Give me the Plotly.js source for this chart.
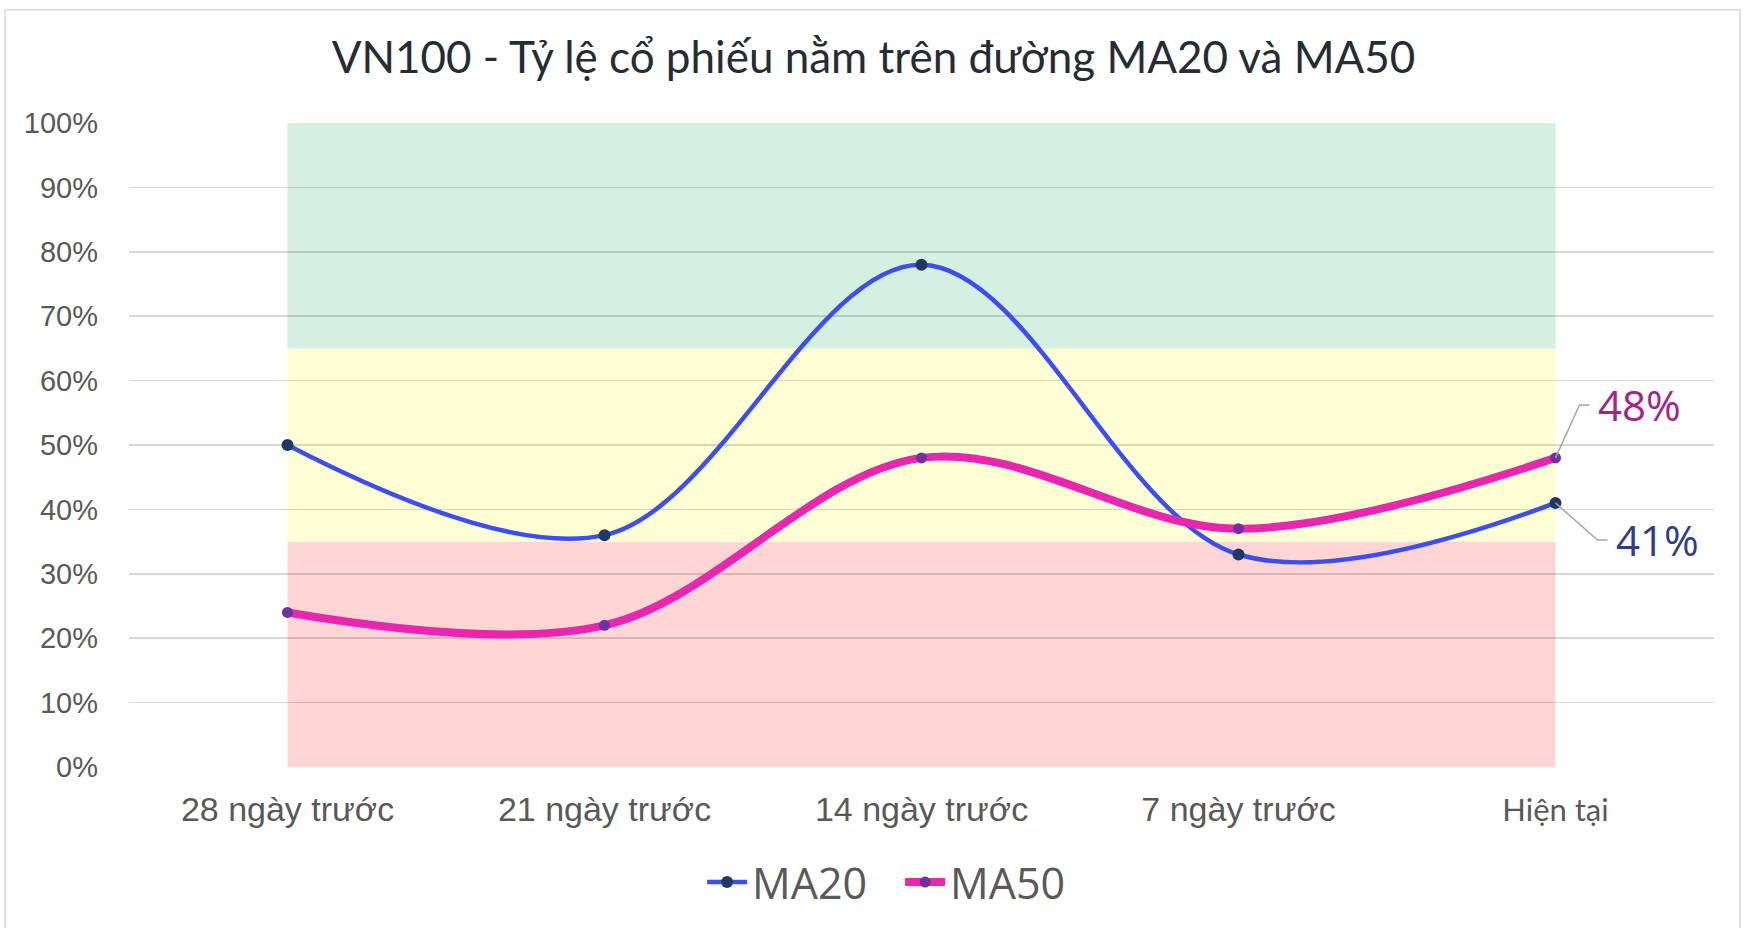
<!DOCTYPE html>
<html><head><meta charset="utf-8">
<script src="https://cdn.plot.ly/plotly-3.0.1.min.js"></script>
<style>html,body{margin:0;padding:0;background:#fff}#chart{width:1747px;height:928px}</style>
</head><body><div id="chart"></div>
<script>
// ---- data ----
const categories = ['28 ngày trước', '21 ngày trước', '14 ngày trước', '7 ngày trước', 'Hiện tại'];
const ma20 = [50, 36, 78, 33, 41];
const ma50 = [24, 22, 48, 37, 48];
const yTickValues = [0, 10, 20, 30, 40, 50, 60, 70, 80, 90, 100];
const yTickLabels = ['0%', '10%', '20%', '30%', '40%', '50%', '60%', '70%', '80%', '90%', '100%'];
const zoneLimits = [0, 35, 65, 100];   // red / yellow / green zones
const seriesNames = ['MA20', 'MA50'];
const titleText = 'VN100 - Tỷ lệ cổ phiếu nằm trên đường MA20 và MA50';

// ---- styles ----
const zoneColors = ['#FFD5D5', '#FFFFD5', '#D5F0E1'];
const last = categories.length - 1;

const tickText = categories.map((c, i) => i === last
  ? '<span style="font-family:Lato;font-size:31px">' + c + '</span>'
  : c);

const traces = [
  {
    x: categories, y: ma20, name: seriesNames[0], type: 'scatter', mode: 'lines+markers',
    line: {color: '#3B4EF2', width: 4.5, shape: 'spline', smoothing: 1},
    marker: {color: '#1F3864', size: 12},
    cliponaxis: false
  },
  {
    x: categories, y: ma50, name: seriesNames[1], type: 'scatter', mode: 'lines+markers',
    line: {color: '#E926B0', width: 8, shape: 'spline', smoothing: 1},
    marker: {color: '#7030A0', size: 11},
    cliponaxis: false
  }
];

const shapes = [];
for (let i = 0; i < zoneColors.length; i++) {
  shapes.push({
    type: 'rect', xref: 'x', yref: 'y', x0: 0, x1: last,
    y0: zoneLimits[i], y1: zoneLimits[i + 1],
    fillcolor: zoneColors[i], line: {width: 0}, layer: 'below'
  });
}
// chart border
shapes.push({
  type: 'rect', xref: 'paper', yref: 'paper', x0: -0.0782, x1: 1.0164, y0: -0.26, y1: 1.176,
  line: {color: '#D9D9D9', width: 1.5}, fillcolor: 'rgba(0,0,0,0)', layer: 'below'
});
// leader lines
shapes.push({
  type: 'path', xref: 'x', yref: 'y', xsizemode: 'pixel', ysizemode: 'pixel',
  xanchor: last, yanchor: ma50[last], path: 'M0,0 L24,53 L34,53',
  line: {color: '#A6A6A6', width: 1.5}
});
shapes.push({
  type: 'path', xref: 'x', yref: 'y', xsizemode: 'pixel', ysizemode: 'pixel',
  xanchor: last, yanchor: ma20[last], path: 'M0,0 L42,-37 L52,-37',
  line: {color: '#A6A6A6', width: 1.5}
});

const annotations = [
  {
    x: last, y: ma50[last], xref: 'x', yref: 'y', text: ma50[last] + '%', showarrow: false,
    xanchor: 'left', yanchor: 'middle', xshift: 40, yshift: 53,
    font: {family: 'Open Sans', size: 42, color: '#A3238E'}
  },
  {
    x: last, y: ma20[last], xref: 'x', yref: 'y', text: ma20[last] + '%', showarrow: false,
    xanchor: 'left', yanchor: 'middle', xshift: 58, yshift: -37,
    font: {family: 'Open Sans', size: 42, color: '#2E3C8C'}
  }
];

const layout = {
  width: 1747, height: 928,
  margin: {l: 129, r: 33, t: 123, b: 160},
  paper_bgcolor: '#FFFFFF', plot_bgcolor: 'rgba(0,0,0,0)',
  title: {
    text: titleText, x: 0.5, xref: 'container', xanchor: 'center',
    y: 1 - 58 / 928, yref: 'container', yanchor: 'middle',
    font: {family: 'Lato', size: 44, color: '#252C36'}
  },
  xaxis: {
    type: 'category', categoryorder: 'array', categoryarray: categories,
    range: [-0.5, categories.length - 0.5],
    tickmode: 'array', tickvals: categories, ticktext: tickText,
    showgrid: false, zeroline: false, showline: false, ticks: '',
    ticklabelstandoff: 19,
    tickfont: {family: 'Liberation Sans', size: 34, color: '#595959'}
  },
  yaxis: {
    range: [0, 100], tickmode: 'array', tickvals: yTickValues, ticktext: yTickLabels,
    showgrid: true, gridcolor: 'rgba(0,0,0,0.15)', gridwidth: 1.5,
    zeroline: false, showline: false, ticks: '',
    ticklabelstandoff: 30,
    tickfont: {family: 'Liberation Sans', size: 29, color: '#595959'}
  },
  showlegend: true,
  legend: {
    orientation: 'h', x: 0.4865, xanchor: 'center', y: -0.177, yanchor: 'middle',
    font: {family: 'Open Sans', size: 43, color: '#595959'},
    itemwidth: 40, entrywidth: 143, entrywidthmode: 'pixels', bgcolor: 'rgba(0,0,0,0)'
  },
  shapes: shapes,
  annotations: annotations,
  hovermode: false
};

Plotly.newPlot('chart', traces, layout, {displayModeBar: false, staticPlot: true});
</script>
</body></html>
